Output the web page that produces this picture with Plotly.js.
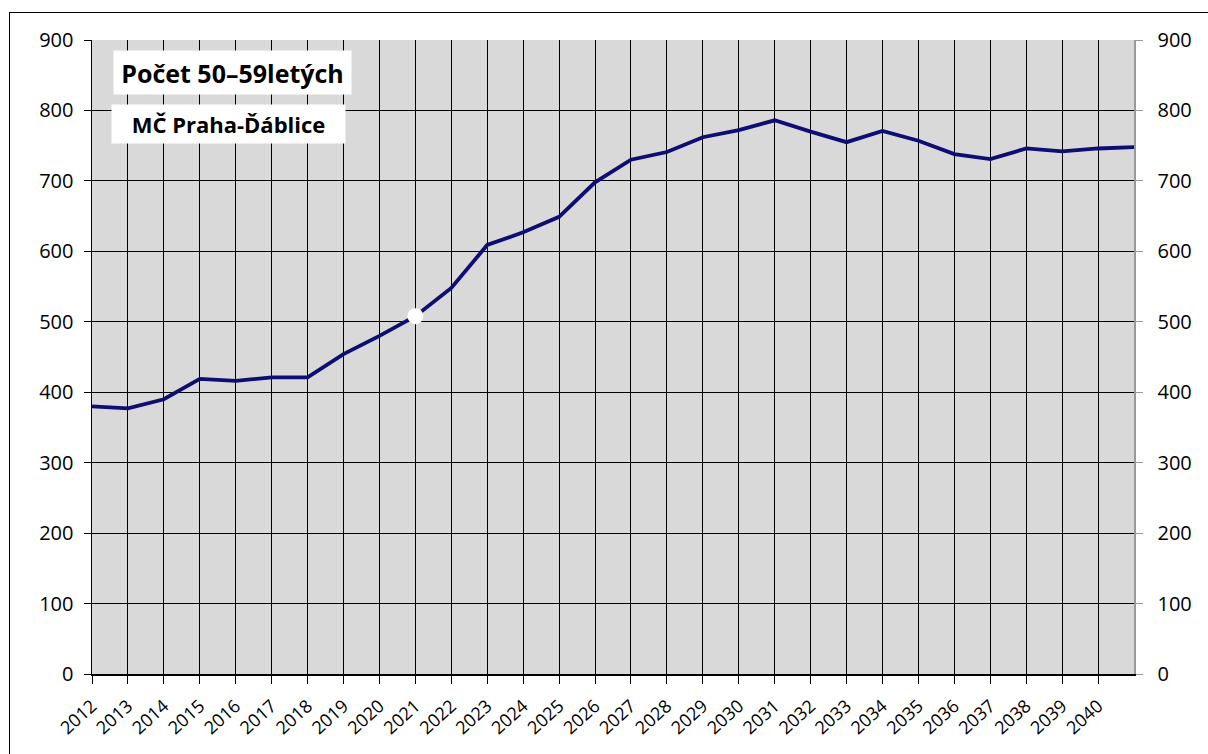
<!DOCTYPE html>
<html>
<head>
<meta charset="utf-8">
<script src="https://cdn.plot.ly/plotly-3.0.1.min.js"></script>
<style>
html,body{margin:0;padding:0;background:#fff;}
#wrap{position:relative;width:1208px;height:754px;overflow:hidden;}
#frame{position:absolute;left:9px;top:12px;width:1300px;height:800px;border-left:1px solid #000;border-top:1px solid #000;pointer-events:none;z-index:5;}
#chart{position:absolute;left:0;top:0;width:1208px;height:754px;}
</style>
</head>
<body>
<div id="wrap"><div id="chart"></div><div id="frame"></div></div>
<script>
const years = [2012,2013,2014,2015,2016,2017,2018,2019,2020,2021,2022,2023,2024,2025,2026,2027,2028,2029,2030,2031,2032,2033,2034,2035,2036,2037,2038,2039,2040,2041];
const values = [380,377,390,419,416,421,421,454,480,508,548,609,627,649,698,730,741,762,772,786,770,755,771,757,738,731,746,742,746,748];
const tickYears = [2012,2013,2014,2015,2016,2017,2018,2019,2020,2021,2022,2023,2024,2025,2026,2027,2028,2029,2030,2031,2032,2033,2034,2035,2036,2037,2038,2039,2040];
const tickLabels = tickYears.map(String);
const highlightYear = [2021];
const highlightValue = [508];
const titleMain = "Počet 50–59letých";
const titleSub = "MČ Praha-Ďáblice";

const FONT = "Open Sans, Noto Sans, sans-serif";
const L = 92, R = 1134, T = 40, B = 674;
const px = x => (x - L) / (R - L);
const py = y => (B - y) / (B - T);

const traces = [
  {x: years, y: values, type: 'scatter', mode: 'lines', line: {color: '#0d0d73', width: 3.8}, hoverinfo: 'skip', showlegend: false},
  {x: highlightYear, y: highlightValue, type: 'scatter', mode: 'markers', marker: {color: '#ffffff', size: 16, line: {width: 0}}, hoverinfo: 'skip', showlegend: false},
  {x: years, y: values, type: 'scatter', mode: 'lines', yaxis: 'y2', line: {color: 'rgba(0,0,0,0)', width: 0}, hoverinfo: 'skip', showlegend: false}
];

const layout = {
  width: 1208, height: 754,
  margin: {l: L, r: 1208 - R, t: T, b: 754 - B},
  paper_bgcolor: '#ffffff',
  plot_bgcolor: '#d9d9d9',
  showlegend: false,
  font: {family: FONT, color: '#000', size: 18},
  xaxis: {
    type: 'linear', range: [2012, 2041],
    tickmode: 'array', tickvals: tickYears, ticktext: tickLabels,
    tickangle: -42, tickfont: {family: FONT, size: 18, color: '#000'},
    ticks: 'outside', ticklen: 8, tickcolor: '#000', tickwidth: 1,
    showgrid: true, gridcolor: '#000', gridwidth: 1,
    showline: true, linecolor: '#000', linewidth: 1.5,
    zeroline: false, fixedrange: true, automargin: false, ticklabelstandoff: 5
  },
  yaxis: {
    range: [0, 900], tickmode: 'linear', tick0: 0, dtick: 100,
    tickfont: {family: FONT, size: 20, color: '#000'},
    ticks: 'outside', ticklen: 7, tickcolor: '#000', tickwidth: 1,
    showgrid: true, gridcolor: '#000', gridwidth: 1,
    showline: true, linecolor: '#000', linewidth: 1.5,
    zeroline: false, ticklabelstandoff: 6, fixedrange: true, automargin: false
  },
  yaxis2: {
    range: [0, 900], tickmode: 'linear', tick0: 0, dtick: 100,
    overlaying: 'y', side: 'right', anchor: 'x',
    tickfont: {family: FONT, size: 20, color: '#000'},
    ticks: 'outside', ticklen: 7, tickcolor: '#999', tickwidth: 1,
    showgrid: false, showline: true, linecolor: '#999', linewidth: 1.5,
    zeroline: false, ticklabelstandoff: 11, fixedrange: true, automargin: false
  },
  annotations: [
    {xref: 'paper', yref: 'paper', x: px(113), y: py(50), xanchor: 'left', yanchor: 'top',
     text: '<b>' + titleMain + '</b>', showarrow: false, bgcolor: '#ffffff', borderpad: 0,
     width: 237, height: 43, align: 'center', valign: 'middle',
     font: {family: FONT, size: 25, color: '#000'}},
    {xref: 'paper', yref: 'paper', x: px(111), y: py(104), xanchor: 'left', yanchor: 'top',
     text: '<b>' + titleSub + '</b>', showarrow: false, bgcolor: '#ffffff', borderpad: 0,
     width: 233, height: 38, align: 'center', valign: 'middle',
     font: {family: FONT, size: 22, color: '#000'}}
  ]
};

Plotly.newPlot('chart', traces, layout, {displayModeBar: false, staticPlot: true});
</script>
</body>
</html>
